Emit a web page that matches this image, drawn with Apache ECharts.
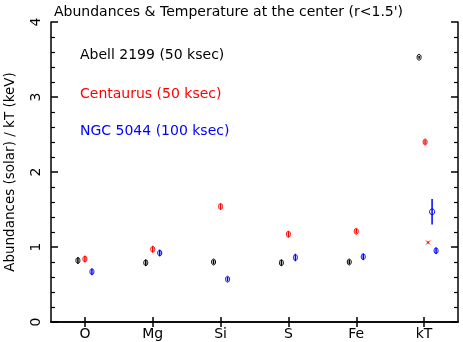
<!DOCTYPE html>
<html><head><meta charset="utf-8">
<script src="https://cdn.jsdelivr.net/npm/echarts@6/dist/echarts.min.js"></script>
<style>html,body{margin:0;padding:0;background:#fff}#c{width:463px;height:342px}</style>
</head><body><div id="c"></div>
<script>
const categories = ['O','Mg','Si','S','Fe','kT'];
const abell = [0.82,0.79,0.80,0.79,0.80,3.53];
const abellErr = [0.04,0.04,0.03,0.04,0.03,0.02];
const centaurus = [0.84,0.97,1.54,1.17,1.21,2.40];
const centaurusErr = [0.04,0.04,0.04,0.04,0.03,0.03];
const ngc = [0.67,0.92,0.57,0.86,0.87,0.95];
const ngcErr = [0.04,0.04,0.03,0.05,0.04,0.04];
const centaurusKT2 = [['kT',1.06,0.01]];
const ngcKT2 = [['kT',1.47,0.17]];
const yTicks = [0,1,2,3,4];

const FONT = '"DejaVu Sans", sans-serif';
// pixel offsets per series (style only), with optional per-category override
function errSeries(name, vals, errs, color, offset, style, overrides) {
  const data = vals.map((v,i)=>Array.isArray(v)?v:[categories[i], v, errs[i]]);
  return {
    type:'custom', name, data, xAxisIndex:0, yAxisIndex:0,
    encode:{x:0,y:1},
    renderItem(params, api){
      const c = api.coord([api.value(0), api.value(1)]);
      const hi = api.coord([api.value(0), api.value(1)+api.value(2)]);
      const lo = api.coord([api.value(0), api.value(1)-api.value(2)]);
      const cat = data[params.dataIndex][0];
      const off = (overrides && overrides[cat]!==undefined) ? overrides[cat] : offset;
      const x = c[0]+off;
      const children = [{type:'line', shape:{x1:x,y1:hi[1],x2:x,y2:lo[1]}, style:{stroke:color,lineWidth:1.5}}];
      if (style==='cross') {
        children.push({type:'line',shape:{x1:x-2,y1:c[1]-2,x2:x+2,y2:c[1]+2},style:{stroke:color,lineWidth:1}});
        children.push({type:'line',shape:{x1:x-2,y1:c[1]+2,x2:x+2,y2:c[1]-2},style:{stroke:color,lineWidth:1}});
      } else {
        children.push({type:'ellipse', shape:{cx:x,cy:c[1],rx:style==='open'?2.5:2,ry:3}, style:{stroke:color,fill:'rgba(255,255,255,0)',lineWidth:1}});
      }
      return {type:'group', children};
    }
  };
}

const chart = echarts.init(document.getElementById('c'), null, {renderer:'canvas'});
const axisLine = {show:true, lineStyle:{color:'#000', width:1.5}};
chart.setOption({
  animation:false,
  backgroundColor:'#fff',
  title:{text:'Abundances & Temperature at the center (r<1.5\')', left:49, top:0,
    textStyle:{fontFamily:FONT, fontSize:14, fontWeight:'normal', color:'#000'}},
  grid:{left:51, right:5, top:22, bottom:20, containLabel:false, outerBoundsMode:'none'},
  xAxis:[
    {type:'category', data:categories, position:'bottom', boundaryGap:true,
     axisLine, axisTick:{show:true, inside:true, alignWithLabel:true, length:5, lineStyle:{color:'#000',width:1.5}},
     axisLabel:{fontFamily:FONT, fontSize:14, color:'#000', margin:5}, splitLine:{show:false}},
    {type:'category', data:categories, position:'top', boundaryGap:true,
     axisLine, axisTick:{show:true, inside:true, alignWithLabel:true, length:5, lineStyle:{color:'#000',width:1.5}},
     axisLabel:{show:false}, splitLine:{show:false}}
  ],
  yAxis:[
    {type:'value', min:0, max:4, interval:1, position:'left',
     axisLine, axisTick:{show:true, inside:true, length:7, lineStyle:{color:'#000',width:1.5}},
     minorTick:{show:true, splitNumber:5, length:4, lineStyle:{color:'#000',width:1.2}},
     axisLabel:{fontFamily:FONT, fontSize:14, color:'#000', rotate:90, margin:8,
       formatter:v=>yTicks.includes(v)?String(v):''},
     splitLine:{show:false},
     name:'Abundances (solar) / kT (keV)', nameLocation:'middle', nameGap:34, nameRotate:90,
     nameTextStyle:{fontFamily:FONT, fontSize:13.5, color:'#000', padding:[0,0,0,0]}},
    {type:'value', min:0, max:4, interval:1, position:'right',
     axisLine, axisTick:{show:true, inside:true, length:7, lineStyle:{color:'#000',width:1.5}},
     minorTick:{show:true, splitNumber:5, length:4, lineStyle:{color:'#000',width:1.2}},
     axisLabel:{show:false}, splitLine:{show:false}}
  ],
  graphic:[
    {type:'text', left:80, top:48, style:{text:'Abell 2199 (50 ksec)', fill:'#000', font:'14px '+FONT}},
    {type:'text', left:80, top:87, style:{text:'Centaurus (50 ksec)', fill:'#ff0000', font:'14px '+FONT}},
    {type:'text', left:80, top:124, style:{text:'NGC 5044 (100 ksec)', fill:'#0000ff', font:'14px '+FONT}}
  ],
  series:[
    errSeries('Abell 2199', abell, abellErr, '#000', -7, 'dot', {kT:-5}),
    errSeries('Centaurus', centaurus, centaurusErr, '#ff0000', 0, 'dot', {kT:1}),
    errSeries('NGC 5044', ngc, ngcErr, '#0000ff', 7, 'dot', {kT:12}),
    errSeries('Centaurus kT2', centaurusKT2, null, '#ff0000', 4, 'cross'),
    errSeries('NGC 5044 kT2', ngcKT2, null, '#0000ff', 8, 'open')
  ]
});
</script></body></html>
